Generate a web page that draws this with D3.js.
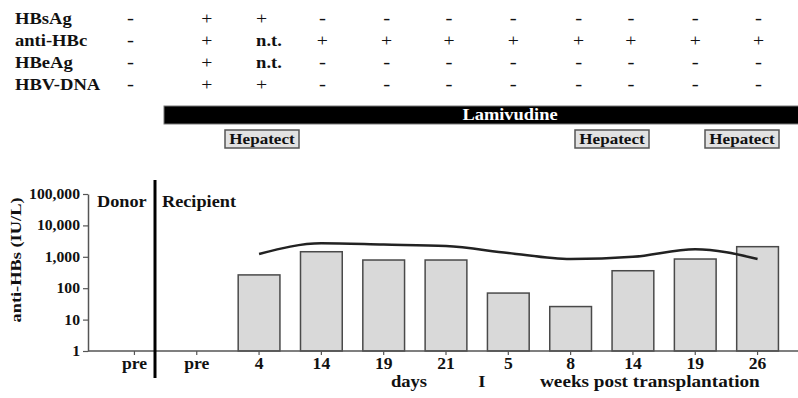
<!DOCTYPE html>
<html>
<head>
<meta charset="utf-8">
<script src="https://cdn.jsdelivr.net/npm/d3@7"></script>
<style>
  html, body { margin: 0; padding: 0; background: #fff; }
</style>
</head>
<body>
<script>
// Time points (donor sample, recipient sample, then days / weeks after transplantation)
const categories = ["pre", "pre", "4", "14", "19", "21", "5", "8", "14", "19", "26"];
// anti-HBs titre (IU/L) shown as bars
const barValues = [null, null, 265, 1450, 790, 790, 70, 26, 360, 850, 2100];
// anti-HBs profile drawn as a line
const lineValues = [null, null, 1230, 2700, 2450, 2200, 1320, 850, 1000, 1750, 850];
// Serology table
const rowLabels = ["HBsAg", "anti-HBc", "HBeAg", "HBV-DNA"];
const hbsagRow   = ["-", "+", "+",    "-", "-", "-", "-", "-", "-", "-", "-"];
const antiHBcRow = ["-", "+", "n.t.", "+", "+", "+", "+", "+", "+", "+", "+"];
const hbeagRow   = ["-", "+", "n.t.", "-", "-", "-", "-", "-", "-", "-", "-"];
const hbvDnaRow  = ["-", "+", "+",    "-", "-", "-", "-", "-", "-", "-", "-"];
const yTicks = [1, 10, 100, 1000, 10000, 100000];
const therapyLabel = "Lamivudine";
const hepatectLabel = "Hepatect";

const W = 798, H = 398;
const SERIF = "'Liberation Serif', 'Times New Roman', Times, serif";
const svg = d3.select("body").append("svg").attr("width", W).attr("height", H)
  .style("font-family", SERIF).style("font-weight", "bold");

// Horizontal widening used for all text set in the serif face
const WIDEN = 1.16;
function widen(sel, k) {
  sel.each(function () {
    const w = this.getComputedTextLength();
    d3.select(this).attr("textLength", w * (k || WIDEN)).attr("lengthAdjust", "spacingAndGlyphs");
  });
  return sel;
}
function label(parent, xPos, yPos, str, size, anchor) {
  return parent.append("text").attr("x", xPos).attr("y", yPos)
    .attr("text-anchor", anchor || "start")
    .style("font-family", SERIF).style("font-weight", "bold")
    .style("font-size", size + "px").style("fill", "#111").text(str);
}

const axisX = 88, baseY = 351, topY = 194;
const x = d3.scaleBand().domain(d3.range(categories.length)).range([93, 799]).padding(0.33);
const xc = i => x(i) + x.bandwidth() / 2;
const y = d3.scaleLog().domain([1, 100000]).range([baseY, topY]);

// ---- serology table ----
const rows = [hbsagRow, antiHBcRow, hbeagRow, hbvDnaRow];
const rowBase = [24, 46, 68, 90];
const colNudge = [-4, 10, 2, 1, 3, 3, 5, 8, -2, 0, 1];
rowLabels.forEach((lab, r) => {
  widen(label(svg, 15, rowBase[r], lab, 16));
  rows[r].forEach((v, i) => {
    const cx = xc(i) + colNudge[i];
    const t = i === 2
      ? label(svg, cx - 5, rowBase[r], v, v === "+" ? 17 : 16, "start")
      : label(svg, cx, rowBase[r], v, v === "+" ? 17 : 16, "middle");
    if (v === "+") t.style("font-weight", "normal");
    widen(t, v === "-" ? 1.3 : WIDEN);
  });
});

// ---- therapy bars ----
svg.append("rect").attr("x", 164).attr("y", 106).attr("width", 640).attr("height", 18)
  .attr("fill", "#000").attr("stroke", "#777").attr("stroke-width", 1);
widen(label(svg, 510, 119.5, therapyLabel, 16, "middle").style("fill", "#fff"), 1.15);

[262, 612, 742].forEach(cx => {
  const g = svg.append("g");
  g.append("rect").attr("x", cx - 37).attr("y", 130).attr("width", 74).attr("height", 18)
    .attr("fill", "#e2e2e2").attr("stroke", "#555").attr("stroke-width", 1.5);
  widen(label(g, cx, 144, hepatectLabel, 15.5, "middle"), 1.1);
});

// ---- bars ----
const barData = barValues.map((v, i) => ({ i, v })).filter(d => d.v != null);
svg.append("g").selectAll("rect").data(barData).join("rect")
  .attr("x", d => x(d.i))
  .attr("y", d => y(d.v))
  .attr("width", x.bandwidth())
  .attr("height", d => baseY - y(d.v))
  .attr("fill", "#d9d9d9")
  .attr("stroke", "#4a4a4a")
  .attr("stroke-width", 1.5);

// ---- line ----
const lineData = lineValues.map((v, i) => ({ i, v })).filter(d => d.v != null);
svg.append("path").datum(lineData)
  .attr("fill", "none").attr("stroke", "#222").attr("stroke-width", 2.5)
  .attr("d", d3.line().x(d => xc(d.i)).y(d => y(d.v)).curve(d3.curveMonotoneX));

// ---- axes ----
const gy = svg.append("g").attr("transform", `translate(${axisX},0)`)
  .call(d3.axisLeft(y).tickValues(yTicks).tickFormat(d3.format(",")).tickSize(5).tickSizeOuter(0).tickPadding(3));
gy.attr("font-family", null).attr("font-size", null);
gy.select(".domain").attr("stroke", "#555").attr("stroke-width", 1.5);
gy.selectAll(".tick line").attr("stroke", "#555").attr("stroke-width", 1.2);
gy.selectAll(".tick text")
  .style("font-family", SERIF).style("font-weight", "bold").style("font-size", "14px").style("fill", "#111")
  .each(function () { widen(d3.select(this), 1.12); });

const gx = svg.append("g").attr("transform", `translate(0,${baseY})`)
  .call(d3.axisBottom(x).tickFormat(i => categories[i]).tickSize(4).tickSizeOuter(0).tickPadding(3));
gx.attr("font-family", null).attr("font-size", null);
gx.select(".domain").remove();
gx.selectAll(".tick line").attr("stroke", "#555").attr("stroke-width", 1.2);
gx.selectAll(".tick text")
  .style("font-family", SERIF).style("font-weight", "bold").style("font-size", "16px").style("fill", "#111")
  .each(function () { widen(d3.select(this), 1.1); });
svg.append("line").attr("x1", axisX).attr("x2", W).attr("y1", baseY).attr("y2", baseY)
  .attr("stroke", "#555").attr("stroke-width", 1.5);

// Donor / recipient divider
svg.append("line").attr("x1", 155).attr("x2", 155).attr("y1", 180).attr("y2", 378)
  .attr("stroke", "#000").attr("stroke-width", 3);
widen(label(svg, 97, 207, "Donor", 16), 1.14);
widen(label(svg, 162, 207, "Recipient", 16), 1.14);

// Y title
label(svg, 0, 0, "anti-HBs (IU/L)", 15, "middle")
  .attr("transform", "translate(21,260) rotate(-90)")
  .attr("textLength", 125).attr("lengthAdjust", "spacingAndGlyphs");

// Time-unit captions
widen(label(svg, 409, 387, "days", 16, "middle"), 1.16);
widen(label(svg, 482, 387, "I", 16, "middle"), 1.16);
widen(label(svg, 540, 387, "weeks post transplantation", 16), 1.2);
</script>
</body>
</html>
